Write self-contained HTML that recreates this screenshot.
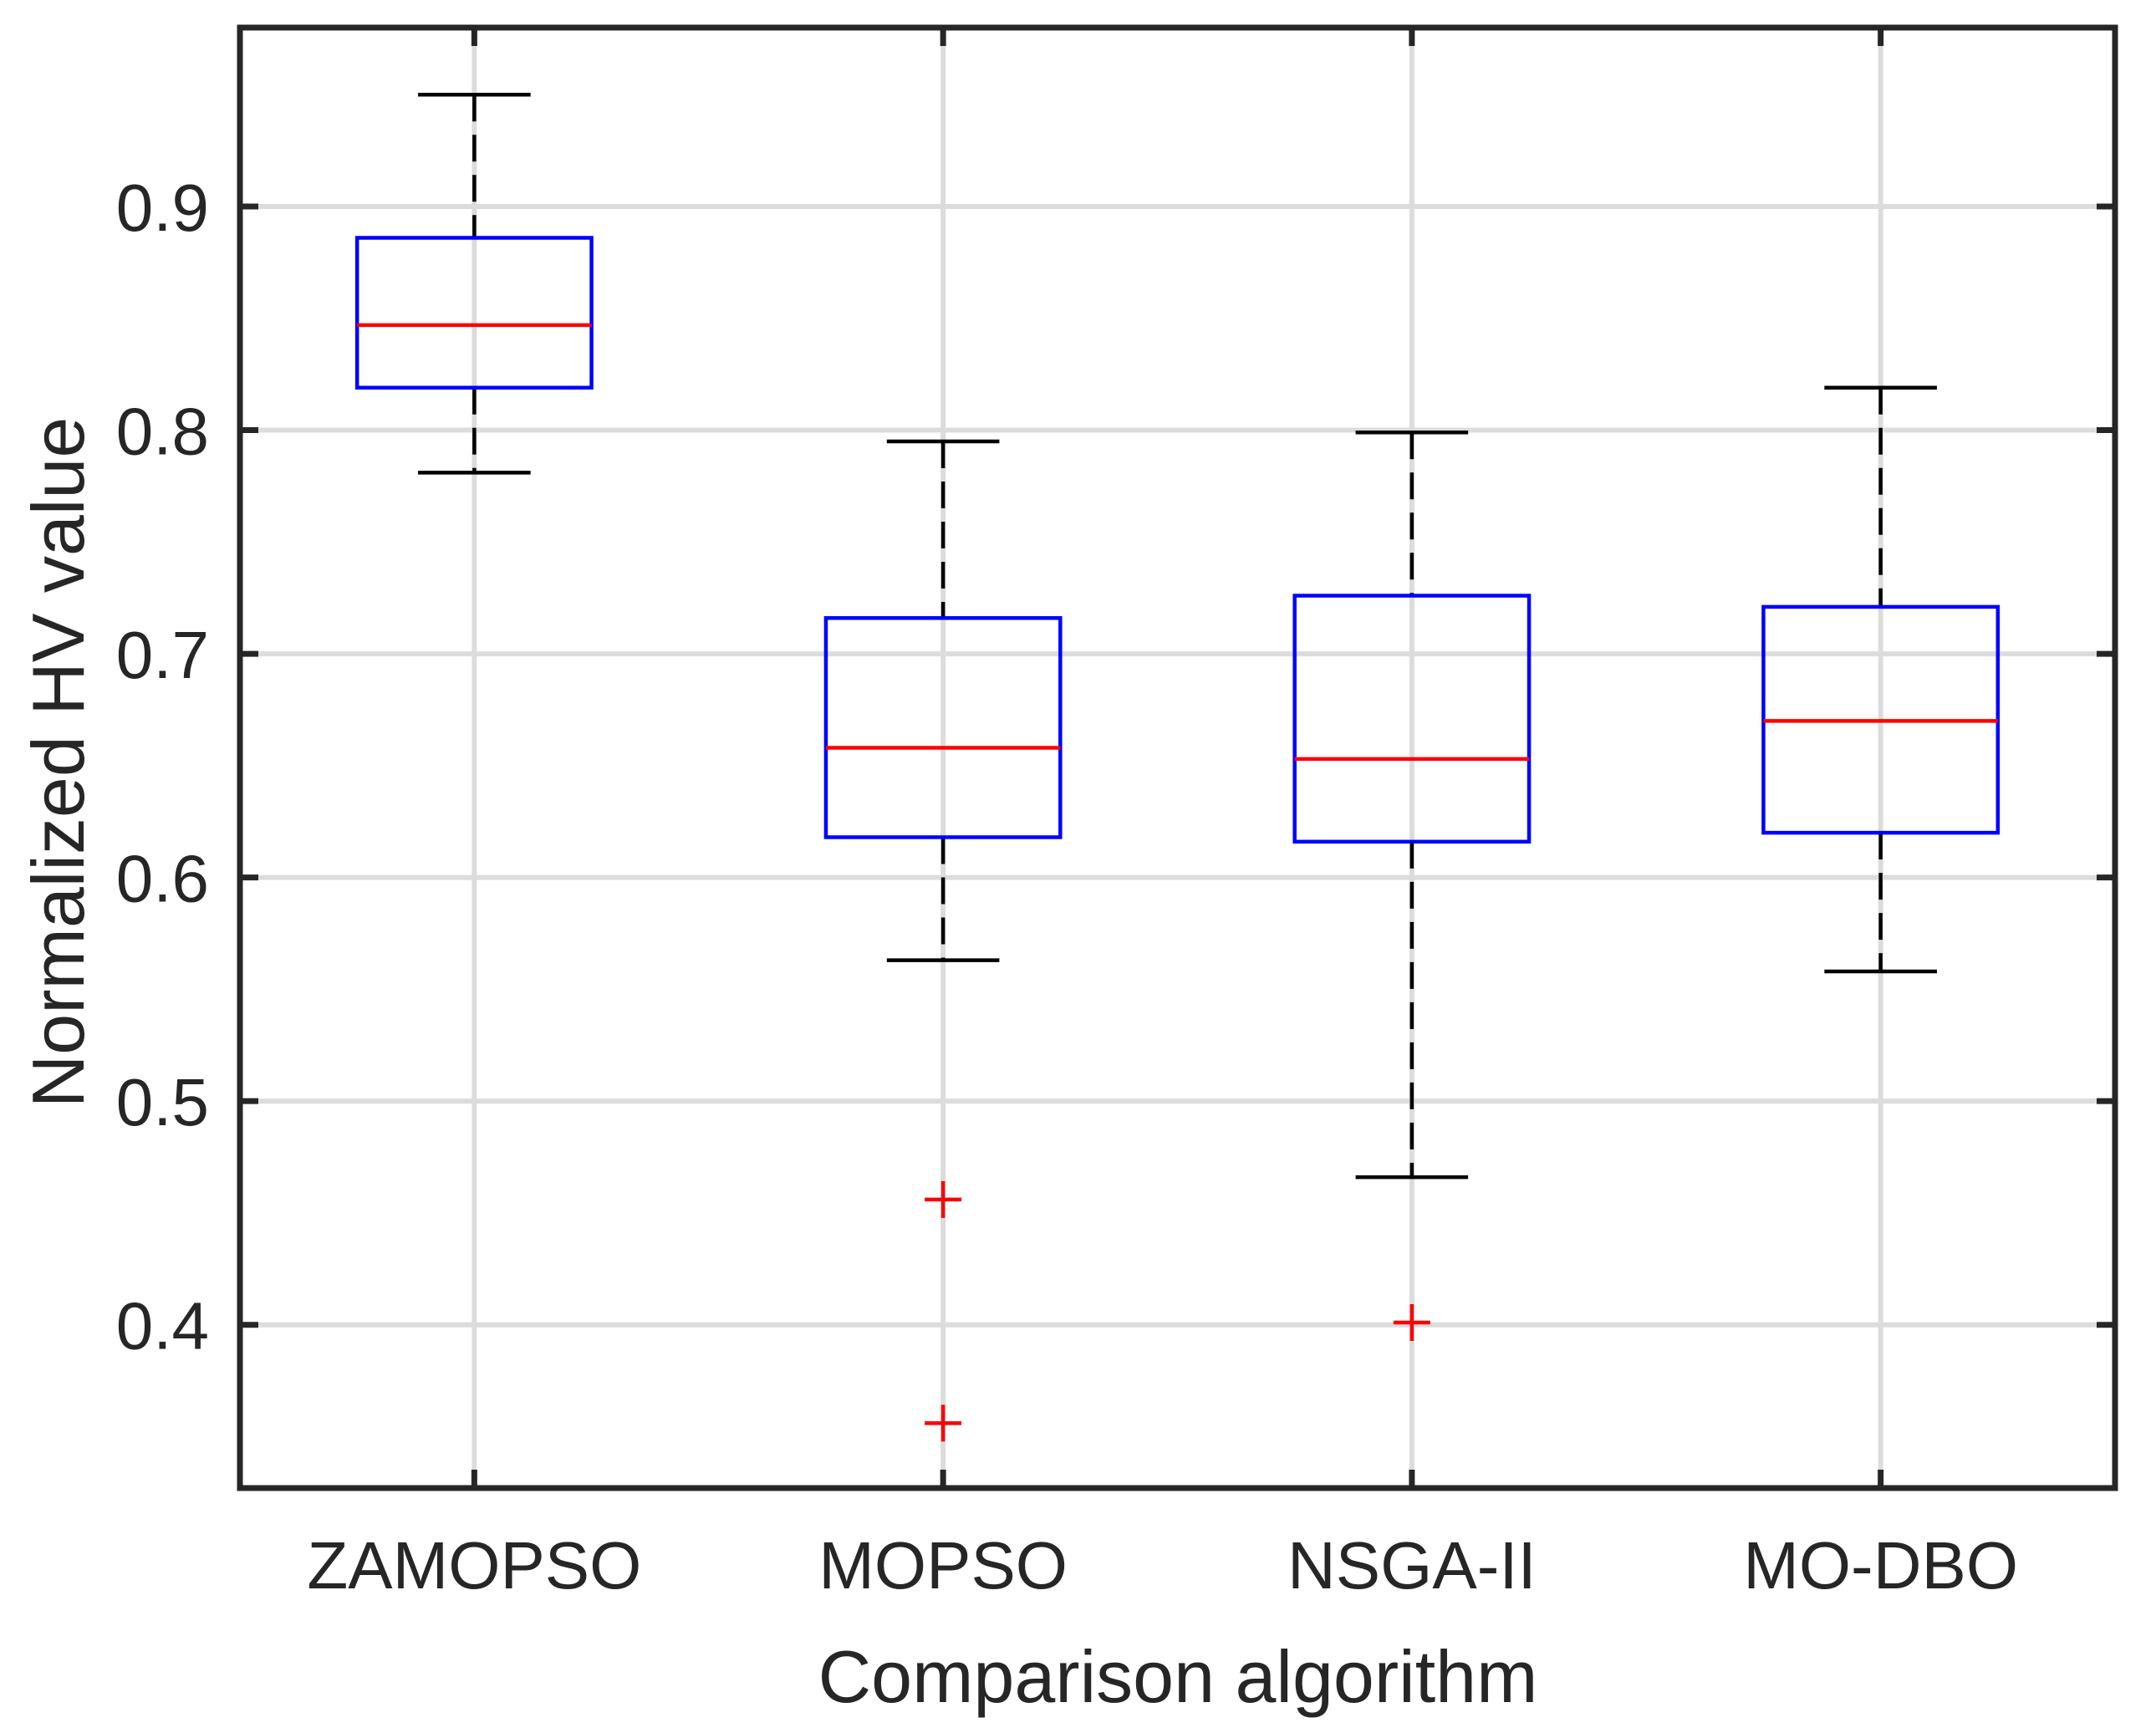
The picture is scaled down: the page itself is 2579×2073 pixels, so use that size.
<!DOCTYPE html>
<html><head><meta charset="utf-8"><style>
html,body{margin:0;padding:0;background:#fff}
svg{display:block}
text{font-family:"Liberation Sans",Arial,sans-serif;fill:#262626}
</style></head><body>
<svg id="chart" width="2579" height="2073" viewBox="0 0 2579 2073" xmlns="http://www.w3.org/2000/svg">
<g id="grid"></g>
<g id="boxes"></g>
<g id="axes"></g>
<text x="100" y="912" font-size="88" text-anchor="middle" transform="rotate(-90 100 912)">Normalized HV value</text>
<text x="1409" y="2036" font-size="88" text-anchor="middle">Comparison algorithm</text>
</svg>
<script>
const categories = ["ZAMOPSO","MOPSO","NSGA-II","MO-DBO"];
const whiskerHigh = [0.950,0.795,0.799,0.819];
const q3Values = [0.886,0.716,0.726,0.721];
const medianValues = [0.847,0.658,0.653,0.670];
const q1Values = [0.819,0.618,0.616,0.620];
const whiskerLow = [0.781,0.563,0.466,0.558];
const outlierCat = [1,1,2];
const outlierVal = [0.456,0.356,0.401];
const yTicks = [0.4,0.5,0.6,0.7,0.8,0.9];
const yTickLabels = ["0.4","0.5","0.6","0.7","0.8","0.9"];

const L=287,R=2530,T=33,B=1780;
const yMin=0.327,yMax=0.98;
const xs=i=>L+(i+0.5)*(R-L)/4;
const ys=v=>B-(v-yMin)/(yMax-yMin)*(B-T);
const NS="http://www.w3.org/2000/svg";
function mk(parent,tag,attrs){const e=document.createElementNS(NS,tag);for(const k in attrs)e.setAttribute(k,attrs[k]);parent.appendChild(e);return e;}
const grid=document.getElementById('grid'),boxes=document.getElementById('boxes'),axes=document.getElementById('axes');
const unit=(R-L)/4;

yTicks.forEach((v,i)=>{
  const g=mk(grid,'line',{x1:L,x2:R,y1:ys(v),y2:ys(v),stroke:'#dcdcdc','stroke-width':6});
  
  
  const t1=mk(axes,'line',{x1:L,x2:L+22,y1:ys(v),y2:ys(v),stroke:'#262626','stroke-width':7});
  
  
  const t2=mk(axes,'line',{x1:R-22,x2:R,y1:ys(v),y2:ys(v),stroke:'#262626','stroke-width':7});
  
  
  const tl=mk(axes,'text',{x:250,y:ys(v)+29,'font-size':80,'text-anchor':'end'});
  tl.textContent=yTickLabels[i];
  
  
});
categories.forEach((c,i)=>{
  const x=xs(i);
  const g=mk(grid,'line',{x1:x,x2:x,y1:T,y2:B,stroke:'#dcdcdc','stroke-width':6});
  
  
  const t1=mk(axes,'line',{x1:x,x2:x,y1:B-22,y2:B,stroke:'#262626','stroke-width':7});
  
  
  const t2=mk(axes,'line',{x1:x,x2:x,y1:T,y2:T+22,stroke:'#262626','stroke-width':7});
  
  
  const tl=mk(axes,'text',{x:x,y:1900,'font-size':80,'text-anchor':'middle'});
  tl.textContent=c;
  
  

  const hw=0.25*unit, cw=0.12*unit;
  const wu=mk(boxes,'line',{x1:x,x2:x,y1:ys(whiskerHigh[i]),y2:ys(q3Values[i]),stroke:'#000','stroke-width':4.5,'stroke-dasharray':'32 16'});
  
  
  const wl=mk(boxes,'line',{x1:x,x2:x,y1:ys(q1Values[i]),y2:ys(whiskerLow[i]),stroke:'#000','stroke-width':4.5,'stroke-dasharray':'32 16'});
  
  
  const cu=mk(boxes,'line',{x1:x-cw,x2:x+cw,y1:ys(whiskerHigh[i]),y2:ys(whiskerHigh[i]),stroke:'#000','stroke-width':4.5});
  
  
  const cl=mk(boxes,'line',{x1:x-cw,x2:x+cw,y1:ys(whiskerLow[i]),y2:ys(whiskerLow[i]),stroke:'#000','stroke-width':4.5});
  
  
  const bx=mk(boxes,'rect',{x:x-hw,y:ys(q3Values[i]),width:2*hw,height:ys(q1Values[i])-ys(q3Values[i]),fill:'none',stroke:'#0000ff','stroke-width':4.5});
  
  
  const md=mk(boxes,'line',{x1:x-hw,x2:x+hw,y1:ys(medianValues[i]),y2:ys(medianValues[i]),stroke:'#ff0000','stroke-width':4.5});
  
  
});
outlierVal.forEach((v,k)=>{
  const x=xs(outlierCat[k]),y=ys(v),s=22;
  const p=mk(boxes,'path',{d:`M${x-s} ${y}H${x+s}M${x} ${y-s}V${y+s}`,stroke:'#ff0000','stroke-width':4.5,fill:'none'});
  
  
});
const fr=mk(axes,'rect',{x:L,y:T,width:R-L,height:B-T,fill:'none',stroke:'#262626','stroke-width':7});


</script>
</body></html>
